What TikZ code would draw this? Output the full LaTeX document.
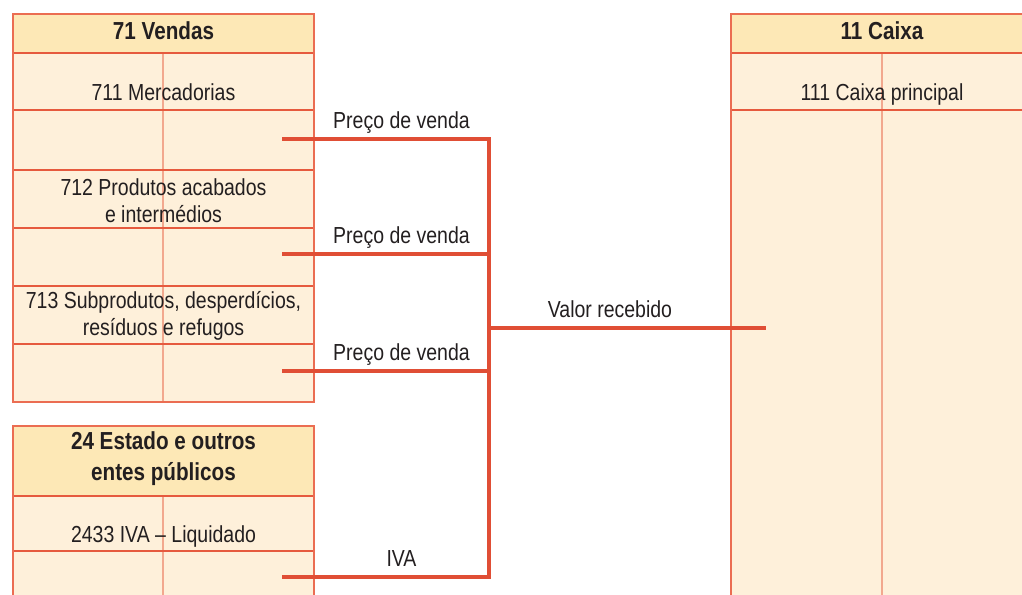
\documentclass[tikz,border=0pt]{standalone}
\usepackage{fontspec}
\setmainfont[FakeStretch=0.84]{Liberation Sans}
\usepackage{tikz}
\usetikzlibrary{positioning,calc}
\definecolor{hdrfill}{HTML}{FDE8B6}
\definecolor{bodyfill}{HTML}{FEF0DA}
\definecolor{rowrule}{HTML}{E65A3E}
\definecolor{midrule}{HTML}{F2A88E}
\definecolor{framerule}{HTML}{EB6D52}
\definecolor{linkred}{HTML}{E04E35}
\definecolor{inkgray}{HTML}{231F20}

\begin{document}
\begin{tikzpicture}[x=0.025cm,y=-0.025cm,
  acct/.style={font=\fontsize{16.5}{19}\selectfont,color=inkgray,align=center,anchor=base,inner sep=0pt},
  head/.style={font=\fontsize{17.5}{21.5}\selectfont\bfseries,color=inkgray,align=center,anchor=base,inner sep=0pt},
  lbl/.style={font=\fontsize{16.5}{19}\selectfont,color=inkgray,anchor=base,inner sep=0pt,yshift=7.5pt},
  frame/.style={draw=framerule,line width=1.4pt},
  row/.style={draw=rowrule,line width=0.8pt},
  mid/.style={draw=midrule,line width=0.9pt},
  link/.style={draw=linkred,line width=2.2pt}]
  \useasboundingbox (0,0) rectangle (1022,594);
  \clip (0,0) rectangle (1022,594);

  % 71 Vendas
  \fill[bodyfill] (13,14) rectangle (314,402);
  \fill[hdrfill] (13,14) rectangle (314,53);
  \draw[mid] (163,53) -- (163,402);
  \foreach \y in {53,110,170,228,286,344}
    \draw[row] (13,\y) -- (314,\y);
  \draw[frame] (13,14) rectangle (314,402);
  \node[head] (v71) at (163.5,39) {71 Vendas};
  \node[acct] (v711) at (163.5,100) {711 Mercadorias};
  \node[acct] (v712) at (163.5,222) {712 Produtos acabados\\e intermédios};
  \node[acct] (v713) at (163.5,335) {713 Subprodutos, desperdícios,\\resíduos e refugos};

  % 24 Estado e outros entes publicos
  \fill[bodyfill] (13,426) rectangle (314,600);
  \fill[hdrfill] (13,426) rectangle (314,496);
  \draw[mid] (163,496) -- (163,600);
  \foreach \y in {496,551}
    \draw[row] (13,\y) -- (314,\y);
  \draw[frame] (13,600) -- (13,426) -- (314,426) -- (314,600);
  \node[head] (e24) at (163.5,480) {24 Estado e outros\\entes públicos};
  \node[acct] (e2433) at (163.5,542) {2433 IVA -- Liquidado};

  % 11 Caixa
  \fill[bodyfill] (731,14) rectangle (1030,600);
  \fill[hdrfill] (731,14) rectangle (1030,53);
  \draw[mid] (882,53) -- (882,600);
  \foreach \y in {53,110}
    \draw[row] (731,\y) -- (1030,\y);
  \draw[frame] (731,600) -- (731,14) -- (1030,14);
  \node[head] (c11) at (882,39) {11 Caixa};
  \node[acct] (c111) at (882,100) {111 Caixa principal};

  % ends of the connectors
  \coordinate (p711) at (282,139);
  \coordinate (p712) at (282,254);
  \coordinate (p713) at (282,371);
  \coordinate (piva) at (282,577);
  \coordinate (junc) at (489,328);
  \coordinate (pcx) at (766,328);

  % connectors
  \draw[link] (p711) -- (p711 -| junc) -- (piva -| junc) -- (piva);
  \draw[link] (p712) -- (p712 -| junc);
  \draw[link] (p713) -- (p713 -| junc);
  \draw[link] (junc) -- (pcx);

  % connector labels
  \node[lbl] (pv711) at (401.5,139) {Preço de venda};
  \node[lbl] (pv712) at (401.5,254) {Preço de venda};
  \node[lbl] (pv713) at (401.5,371) {Preço de venda};
  \node[lbl] (liva) at (401.5,577) {IVA};
  \node[lbl] (lrec) at (610,328) {Valor recebido};
\end{tikzpicture}
\end{document}
